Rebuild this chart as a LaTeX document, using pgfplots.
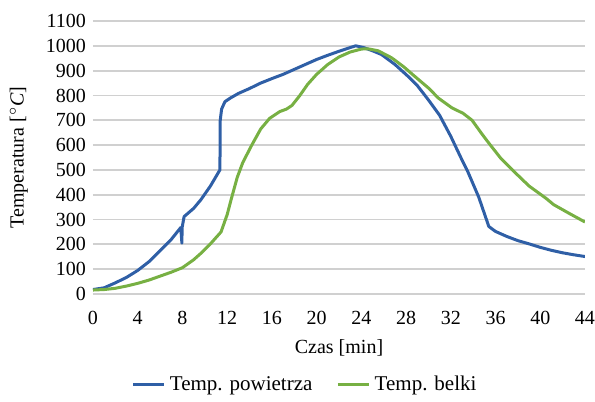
\documentclass[border=0pt]{standalone}
\usepackage{pgfplots}
\pgfplotsset{compat=1.18}
\usepackage{fontspec}
\setmainfont{Liberation Serif}
\definecolor{cblue}{HTML}{2F5FA6}
\definecolor{cgreen}{HTML}{77B043}
\definecolor{cgrid}{HTML}{D0D0D0}
\begin{document}
\begin{tikzpicture}
\begin{axis}[
  scale only axis,
  width=246pt, height=136.5pt,
  xmin=0, xmax=44, ymin=0, ymax=1100,
  xtick={0,4,...,44}, ytick={0,100,...,1100},
  /pgf/number format/assume math mode=true,
  /pgf/number format/1000 sep={},
  ticklabel style={font=\fontsize{10}{12}\selectfont},
  axis line style={draw=none},
  tick style={draw=none},
  ymajorgrids, grid style={cgrid, line width=0.9pt},
  xlabel={Czas [min]},
  ylabel={Temperatura [$^\circ$\textit{C}]},
  label style={font=\fontsize{10}{12}\selectfont},
  xlabel style={at={(0.5,-0.14)}, anchor=north},
  ylabel style={at={(-0.118,0.5)}, anchor=south},
  xticklabel style={yshift=-5pt},
  legend columns=2,
  legend style={draw=none, at={(0.433,-0.333)}, anchor=center,
    font=\fontsize{10.5}{12}\selectfont,
    /tikz/every even column/.append style={column sep=10pt}},
  legend image code/.code={\draw[#1] (0cm,0cm) -- (0.55cm,0cm);},
]
\addplot[cblue, line width=1.5pt, line join=round] coordinates {
(0,18) (1,25) (2,45) (3,67) (4,95) (5,130) (6,175) (7,220) (7.85,268)
(7.95,205) (7.97,268) (8.15,312) (9,345) (9.65,380) (10.5,435) (11.35,500)
(11.38,700) (11.5,745) (11.8,775) (12.3,790) (13,808) (14,828) (15,850)
(16,868) (17,885) (18,905) (19,925) (20,945) (21,962) (22,978) (23,993)
(23.5,1000) (24.2,993) (25,980) (25.8,965) (27,925) (28.2,876) (29,840)
(30,782) (31,720) (32,635) (33,540) (33.5,495) (34.5,390) (35.4,272)
(36,252) (37,232) (38,215) (39,202) (40,188) (41,176) (42,166) (43,158) (44,151)
};
\addlegendentry{Temp. powietrza}
\addplot[cgreen, line width=1.5pt, line join=round] coordinates {
(0,16) (1,18) (2,23) (3,32) (4,43) (5,56) (6,72) (7,88) (8,106) (9,138)
(9.65,164) (10.5,202) (11.45,250) (12,320) (12.35,380) (12.9,470) (13.4,530)
(14.2,600) (15,665) (15.8,708) (16.7,735) (17.3,745) (17.8,760) (18.5,800)
(19.2,845) (20,885) (21,925) (22,955) (23,975) (24,987) (24.6,988) (25.5,980)
(26.7,952) (27.8,915) (28.8,876) (30,830) (30.9,789) (32.1,750) (33.1,728)
(33.9,700) (34.7,650) (35.4,608) (36.5,545) (37.8,487) (39,435) (40.5,386)
(41.2,360) (42.5,327) (44,290)
};
\addlegendentry{Temp. belki}
\end{axis}
\pgfresetboundingbox
\path[use as bounding box] (-46.5pt,-54pt) rectangle (251pt,147pt);
\end{tikzpicture}
\end{document}
